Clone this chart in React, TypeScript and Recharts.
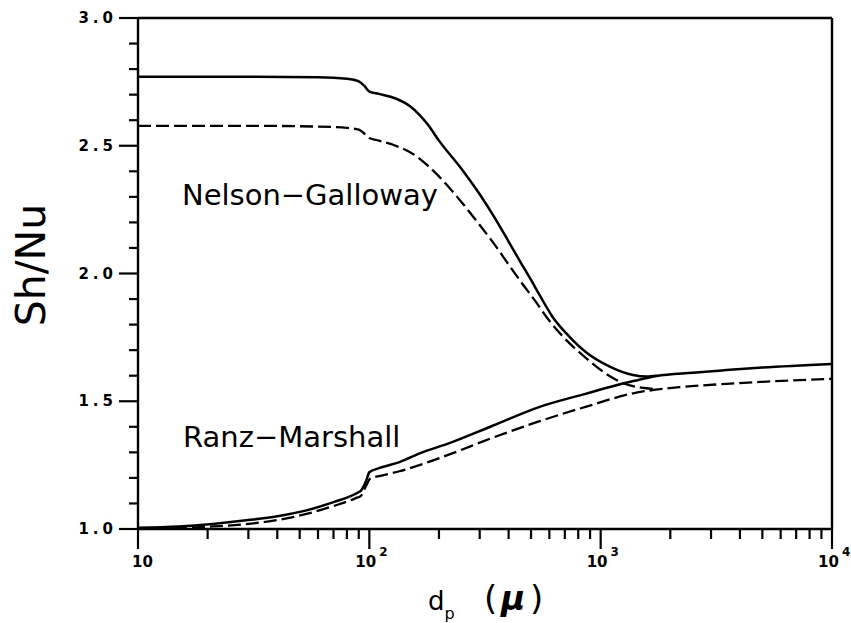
import React from 'react';
import { LineChart, Line, XAxis, YAxis, ReferenceLine } from 'recharts';

// Nelson-Galloway, solid
const ngSolidD = [10, 30, 60, 80, 90, 95, 100, 110, 130, 150, 180, 200, 250, 300, 350, 400, 450, 500, 545, 620, 720, 870, 1100, 1380, 1580, 1750];
const ngSolidV = [2.77, 2.77, 2.768, 2.762, 2.752, 2.735, 2.712, 2.703, 2.685, 2.655, 2.58, 2.52, 2.41, 2.31, 2.215, 2.125, 2.045, 1.975, 1.915, 1.83, 1.76, 1.69, 1.635, 1.603, 1.597, 1.6];
// Nelson-Galloway, dashed
const ngDashD = [10, 30, 60, 80, 90, 95, 100, 110, 130, 150, 180, 200, 250, 300, 350, 400, 450, 521, 600, 689, 867, 1096, 1260, 1500, 1700];
const ngDashV = [2.578, 2.578, 2.575, 2.57, 2.563, 2.548, 2.53, 2.52, 2.5, 2.475, 2.42, 2.38, 2.28, 2.19, 2.11, 2.035, 1.97, 1.893, 1.815, 1.752, 1.668, 1.598, 1.57, 1.553, 1.548];
// Ranz-Marshall, solid
const rmSolidD = [10, 15, 21, 30, 40, 54, 70, 89, 92, 97, 100, 110, 135, 167, 216, 343, 545, 867, 1096, 1400, 1740, 2500, 3490, 5000, 10000];
const rmSolidV = [1.005, 1.01, 1.02, 1.035, 1.05, 1.074, 1.105, 1.142, 1.15, 1.19, 1.222, 1.238, 1.262, 1.298, 1.332, 1.405, 1.478, 1.53, 1.556, 1.58, 1.599, 1.612, 1.622, 1.632, 1.646];
// Ranz-Marshall, dashed
const rmDashD = [10, 21, 30, 40, 54, 70, 87, 92, 97, 101, 110, 135, 167, 216, 343, 545, 867, 1380, 2190, 3490, 5000, 10000];
const rmDashV = [1.0, 1.01, 1.02, 1.035, 1.06, 1.09, 1.12, 1.13, 1.17, 1.198, 1.207, 1.226, 1.252, 1.288, 1.358, 1.422, 1.479, 1.531, 1.555, 1.568, 1.576, 1.588];

const yTicks = [1.0, 1.1, 1.2, 1.3, 1.4, 1.5, 1.6, 1.7, 1.8, 1.9, 2.0, 2.1, 2.2, 2.3, 2.4, 2.5, 2.6, 2.7, 2.8, 2.9, 3.0];
const xTicks = [10, 20, 30, 40, 50, 60, 70, 80, 90, 100, 200, 300, 400, 500, 600, 700, 800, 900, 1000, 2000, 3000, 4000, 5000, 6000, 7000, 8000, 9000, 10000];

const series = (d: number[], v: number[]) => d.map((x, i) => ({ d: x, v: v[i] }));
const ngSolid = series(ngSolidD, ngSolidV);
const ngDash = series(ngDashD, ngDashV);
const rmSolid = series(rmSolidD, rmSolidV);
const rmDash = series(rmDashD, rmDashV);

const FONT = 'DejaVu Sans';

const YTick = (props: any) => {
  const { x, y, payload } = props;
  const v = payload.value;
  const major = Math.abs(v * 2 - Math.round(v * 2)) < 1e-6;
  return (
    <g>
      <line x1={x - (major ? 19 : 9)} x2={x} y1={y} y2={y} stroke="#000" strokeWidth={2.2} />
      {major && (
        <text x={x - 21} y={y} textAnchor="end" dominantBaseline="central" fontFamily={FONT} fontWeight="bold" fontSize={15} letterSpacing={4} fill="#000">
          {v.toFixed(1)}
        </text>
      )}
    </g>
  );
};

const XTick = (props: any) => {
  const { x, y, payload } = props;
  const v = payload.value;
  const lg = Math.log10(v);
  const major = Math.abs(lg - Math.round(lg)) < 1e-6;
  const e = Math.round(lg);
  return (
    <g>
      <line x1={x} x2={x} y1={y} y2={y + (major ? 20 : 10)} stroke="#000" strokeWidth={2.2} />
      {major && e === 1 && (
        <text x={x - 6} y={y + 38} textAnchor="start" fontFamily={FONT} fontWeight="bold" fontSize={15} fill="#000">10</text>
      )}
      {major && e > 1 && (
        <text x={x - 14} y={y + 38} textAnchor="start" fontFamily={FONT} fontWeight="bold" fontSize={15} fill="#000">
          10<tspan dx={3} dy={-11} fontSize={12}>{e}</tspan>
        </text>
      )}
    </g>
  );
};

export default function App() {
  return (
    <div style={{ position: 'absolute', left: 0, top: 0, width: 851, height: 623, background: '#fff' }}>
      <LineChart width={851} height={623} data={rmSolid} margin={{ top: 18, right: 19, left: 0, bottom: 0 }}>
        <XAxis
          dataKey="d"
          type="number"
          scale="log"
          domain={[10, 10000]}
          ticks={xTicks}
          tick={<XTick />}
          tickSize={0}
          tickMargin={0}
          height={94}
          axisLine={{ stroke: '#000', strokeWidth: 2.4 }}
          allowDataOverflow
          interval={0}
        />
        <YAxis
          type="number"
          domain={[1, 3]}
          ticks={yTicks}
          tick={<YTick />}
          tickSize={0}
          tickMargin={0}
          width={138}
          axisLine={{ stroke: '#000', strokeWidth: 2.4 }}
          allowDataOverflow
          interval={0}
        />
        <ReferenceLine y={3} stroke="#000" strokeWidth={2.4} ifOverflow="extendDomain" />
        <ReferenceLine x={10000} stroke="#000" strokeWidth={2.4} />
        <Line data={ngSolid} dataKey="v" type="monotone" stroke="#000" strokeWidth={2.5} dot={false} isAnimationActive={false} />
        <Line data={ngDash} dataKey="v" type="monotone" stroke="#000" strokeWidth={2.3} strokeDasharray="13 5" dot={false} isAnimationActive={false} />
        <Line data={rmSolid} dataKey="v" type="monotone" stroke="#000" strokeWidth={2.5} dot={false} isAnimationActive={false} />
        <Line data={rmDash} dataKey="v" type="monotone" stroke="#000" strokeWidth={2.3} strokeDasharray="13 5" dot={false} isAnimationActive={false} />
      </LineChart>
      <svg width={851} height={623} style={{ position: 'absolute', left: 0, top: 0, pointerEvents: 'none' }}>
        <text x={182} y={205} fontFamily={FONT} fontSize={29} fill="#000">Nelson−Galloway</text>
        <text x={183} y={447} fontFamily={FONT} fontSize={29} fill="#000">Ranz−Marshall</text>
        <text x={45} y={265} transform="rotate(-90 45 265)" textAnchor="middle" fontFamily={FONT} fontSize={41} fill="#000">Sh/Nu</text>
        <text x={428} y={610} fontFamily={FONT} fontSize={26} fill="#000">
          d<tspan fontSize={16} dy={9}>p</tspan>
          <tspan x={484} dy={-9} fontSize={34}>(</tspan>
          <tspan x={501} fontStyle="italic" fontWeight="bold" fontSize={33}>μ</tspan>
          <tspan x={530} fontSize={34}>)</tspan>
        </text>
      </svg>
    </div>
  );
}
